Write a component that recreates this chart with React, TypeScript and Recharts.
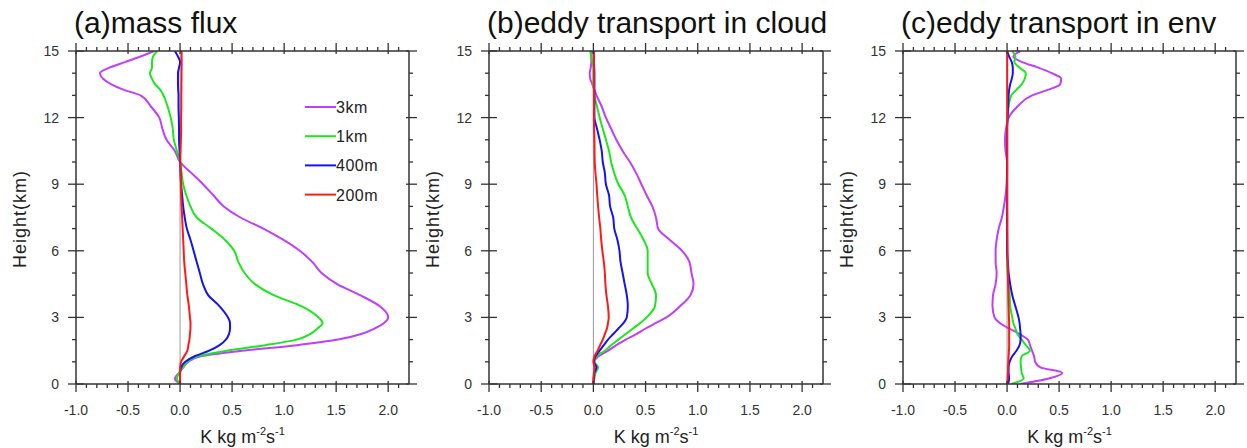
import { LineChart, Line, XAxis, YAxis, ReferenceLine } from "recharts";

// heights (km) shared by every profile
const heights = [
  0, 0.25, 0.5, 0.75, 1, 1.25, 1.5, 1.75, 2, 2.25, 2.5, 2.75, 3, 3.5, 4, 4.5, 5, 5.5, 6, 6.5, 7, 7.5, 8,
  8.5, 9, 9.5, 10, 10.5, 11, 11.5, 12, 12.5, 13, 13.25, 13.5, 13.75, 14, 14.25, 14.5, 14.75, 15,
];

// (a) mass flux
const a3km = [
  0, -0.05, -0.01, 0.03, 0.08, 0.2, 0.6, 1.12, 1.52, 1.74, 1.87, 1.96, 2.0, 1.92, 1.73, 1.51, 1.36, 1.27,
  1.15, 0.99, 0.8, 0.58, 0.42, 0.32, 0.22, 0.11, 0.0, -0.05, -0.13, -0.17, -0.2, -0.28, -0.38, -0.54, -0.66,
  -0.74, -0.77, -0.68, -0.53, -0.38, -0.25,
];
const a1km = [
  0, -0.03, -0.01, 0.03, 0.07, 0.17, 0.45, 0.82, 1.12, 1.25, 1.32, 1.37, 1.33, 1.17, 0.9, 0.72, 0.62, 0.56,
  0.52, 0.43, 0.3, 0.16, 0.1, 0.06, 0.03, 0.015, 0.0, -0.03, -0.06, -0.07, -0.09, -0.12, -0.16, -0.19, -0.24,
  -0.27, -0.29, -0.27, -0.27, -0.26, -0.22,
];
const a400m = [
  0, 0, 0, 0.01, 0.05, 0.14, 0.28, 0.38, 0.44, 0.47, 0.48, 0.48, 0.46, 0.38, 0.27, 0.22, 0.19, 0.16, 0.13,
  0.1, 0.065, 0.045, 0.03, 0.02, 0.01, 0.005, 0, -0.005, -0.01, -0.01, -0.012, -0.015, -0.015, -0.018, -0.02,
  -0.02, -0.02, -0.01, 0, -0.02, -0.05,
];
const a200m = [
  0, 0, 0, 0, 0.01, 0.04, 0.07, 0.08, 0.09, 0.095, 0.1, 0.1, 0.095, 0.085, 0.07, 0.06, 0.05, 0.04, 0.035,
  0.03, 0.025, 0.02, 0.015, 0.01, 0.008, 0.005, 0.003, 0.005, 0.008, 0.01, 0.01, 0.012, 0.012, 0.013, 0.013,
  0.014, 0.014, 0.015, 0.015, 0.015, 0.015,
];

// (b) eddy transport in cloud
const b3km = [
  0, 0.005, 0.01, 0.03, 0.01, 0.05, 0.14, 0.22, 0.31, 0.41, 0.5, 0.6, 0.7, 0.83, 0.93, 0.96, 0.94, 0.92,
  0.85, 0.73, 0.62, 0.6, 0.565, 0.51, 0.46, 0.41, 0.35, 0.28, 0.22, 0.17, 0.12, 0.08, 0.03, 0.01, -0.01,
  -0.03, -0.035, -0.025, -0.02, -0.02, -0.01,
];
const b1km = [
  0, 0.01, 0.02, 0.045, 0.01, 0.03, 0.11, 0.17, 0.24, 0.31, 0.38, 0.45, 0.51, 0.59, 0.6, 0.56, 0.52, 0.52,
  0.52, 0.48, 0.42, 0.36, 0.33, 0.3, 0.24, 0.2, 0.17, 0.15, 0.12, 0.09, 0.06, 0.035, 0.01, 0.005, 0, 0, 0, 0,
  -0.01, -0.02, -0.03,
];
const b400m = [
  0, 0.005, 0.01, 0.03, 0.005, 0.02, 0.06, 0.1, 0.14, 0.19, 0.24, 0.29, 0.32, 0.33, 0.32, 0.3, 0.28, 0.26,
  0.25, 0.23, 0.2, 0.19, 0.16, 0.15, 0.12, 0.11, 0.09, 0.08, 0.06, 0.035, 0.01, 0.01, 0.01, 0.01, 0.01, 0.01,
  0.01, 0.008, 0.006, 0.005, 0.005,
];
const b200m = [
  0, 0, 0.005, 0.01, 0, 0.01, 0.04, 0.065, 0.09, 0.11, 0.13, 0.14, 0.147, 0.14, 0.125, 0.115, 0.11, 0.1,
  0.086, 0.075, 0.067, 0.055, 0.045, 0.037, 0.03, 0.02, 0.013, 0.011, 0.01, 0.007, 0.005, 0.005, 0.005,
  0.005, 0.005, 0.005, 0.005, 0.005, 0.005, 0.005, 0.005,
];

// (c) eddy transport in env
const c3km = [
  0.12, 0.4, 0.53, 0.32, 0.27, 0.26, 0.24, 0.22, 0.2, 0.12, 0.02, -0.07, -0.12, -0.14, -0.135, -0.11, -0.1,
  -0.11, -0.11, -0.1, -0.08, -0.05, -0.03, -0.015, -0.005, 0, 0, -0.015, -0.02, -0.01, 0.016, 0.1, 0.24,
  0.39, 0.51, 0.52, 0.43, 0.3, 0.145, 0.06, 0.13,
];
const c1km = [
  0.04, 0.16, 0.14, 0.135, 0.13, 0.14, 0.22, 0.18, 0.14, 0.1, 0.08, 0.06, 0.05, 0.03, 0.025, 0.015, 0.005,
  0, 0, 0, 0, 0, 0, 0, 0, 0, 0, 0, 0, 0, 0.005, 0.015, 0.04, 0.09, 0.14, 0.17, 0.18, 0.12, 0.07, 0.08, 0.05,
];
const c400m = [
  0.01, 0.02, 0.015, 0.015, 0.025, 0.05, 0.09, 0.12, 0.13, 0.13, 0.125, 0.12, 0.11, 0.08, 0.05, 0.03, 0.015,
  0.008, 0, 0, 0, 0, 0, 0, 0, 0, 0, 0, 0, 0, 0.005, 0.01, 0.015, 0.02, 0.03, 0.045, 0.055, 0.055, 0.045,
  0.02, 0,
];
const c200m = [
  0, 0.005, 0.008, 0.01, 0.012, 0.015, 0.018, 0.02, 0.02, 0.02, 0.02, 0.02, 0.018, 0.015, 0.012, 0.01,
  0.008, 0.006, 0.005, 0.004, 0.003, 0.003, 0.002, 0.002, 0.002, 0.002, 0.002, 0.002, 0.002, 0.002, 0.002,
  0.001, 0.001, 0.001, 0.001, 0.001, 0.001, 0.001, 0.001, 0.001, 0,
];

const seriesNames = ["3km", "1km", "400m", "200m"];
const seriesColors = ["#bf3eff", "#1ee61e", "#1414f0", "#ff1a1a"];

const panelTitles = ["(a)mass flux", "(b)eddy transport in cloud", "(c)eddy transport in env"];

const xTicks = [
  -1, -0.9, -0.8, -0.7, -0.6, -0.5, -0.4, -0.3, -0.2, -0.1, 0, 0.1, 0.2, 0.3, 0.4, 0.5, 0.6, 0.7, 0.8, 0.9,
  1, 1.1, 1.2, 1.3, 1.4, 1.5, 1.6, 1.7, 1.8, 1.9, 2, 2.1,
];
const xMajor = [-1, -0.5, 0, 0.5, 1, 1.5, 2];
const yTicks = [0, 1, 2, 3, 4, 5, 6, 7, 8, 9, 10, 11, 12, 13, 14, 15];
const yMajor = [0, 3, 6, 9, 12, 15];

const FONT = "'Liberation Sans', Arial, Helvetica, sans-serif";
const AXIS = "#333";

const isMajor = (v: number, majors: number[]) => majors.some((m) => Math.abs(m - v) < 1e-6);

function BottomTick(p: any) {
  const major = isMajor(p.payload.value, xMajor);
  return (
    <g>
      <line x1={p.x} x2={p.x} y1={major ? p.y - 3 : p.y} y2={p.y + (major ? 8 : 4)} stroke={AXIS} strokeWidth={1.3} />
      {major && (
        <text x={p.x} y={p.y + 31} textAnchor="middle" fontSize={14} fontFamily={FONT} fill="#333">
          {p.payload.value.toFixed(1)}
        </text>
      )}
    </g>
  );
}

function TopTick(p: any) {
  const major = isMajor(p.payload.value, xMajor);
  return <line x1={p.x} x2={p.x} y1={p.y - (major ? 8 : 4)} y2={major ? p.y + 3 : p.y} stroke={AXIS} strokeWidth={1.3} />;
}

function LeftTick(p: any) {
  const major = isMajor(p.payload.value, yMajor);
  return (
    <g>
      <line x1={p.x - (major ? 8 : 4)} x2={major ? p.x + 8 : p.x} y1={p.y} y2={p.y} stroke={AXIS} strokeWidth={1.3} />
      {major && (
        <text x={p.x - 17} y={p.y + 5} textAnchor="end" fontSize={14} fontFamily={FONT} fill="#333">
          {p.payload.value}
        </text>
      )}
    </g>
  );
}

function RightTick(p: any) {
  const major = isMajor(p.payload.value, yMajor);
  return <line x1={major ? p.x - 3 : p.x} x2={p.x + (major ? 8 : 4)} y1={p.y} y2={p.y} stroke={AXIS} strokeWidth={1.3} />;
}

type PanelProps = {
  left: number;
  width: number;
  plotLeft: number;
  plotRight: number;
  values: number[][];
};

const PLOT_TOP = 51;
const PLOT_BOTTOM = 384;

function Panel({ left, width, plotLeft, plotRight, values }: PanelProps) {
  const data = heights.map((h, i) => {
    const row: any = { h };
    seriesNames.forEach((name, k) => (row[name] = values[k][i]));
    return row;
  });
  const axisLine = { stroke: AXIS, strokeWidth: 1.5 };
  // each axis takes 1px, the rest of the frame comes from the margins
  const margin = {
    top: PLOT_TOP - 1,
    bottom: 448 - PLOT_BOTTOM - 1,
    left: plotLeft - left - 1,
    right: left + width - plotRight - 1,
  };
  return (
    <div style={{ position: "absolute", left, top: 0 }}>
      <LineChart width={width} height={448} layout="vertical" data={data} margin={margin}>
        <XAxis xAxisId="b" type="number" domain={[-1, 2.2]} allowDataOverflow ticks={xTicks} interval={0}
          height={1} tickSize={0} tickMargin={0} tickLine={false} axisLine={axisLine} tick={(p: any) => <BottomTick {...p} />} />
        <XAxis xAxisId="t" orientation="top" type="number" domain={[-1, 2.2]} allowDataOverflow ticks={xTicks} interval={0}
          height={1} tickSize={0} tickMargin={0} tickLine={false} axisLine={axisLine} tick={(p: any) => <TopTick {...p} />} />
        <YAxis yAxisId="l" dataKey="h" type="number" domain={[0, 15]} allowDataOverflow reversed ticks={yTicks} interval={0}
          width={1} tickSize={0} tickMargin={0} tickLine={false} axisLine={axisLine} tick={(p: any) => <LeftTick {...p} />} />
        <YAxis yAxisId="r" dataKey="h" orientation="right" type="number" domain={[0, 15]} allowDataOverflow reversed ticks={yTicks} interval={0}
          width={1} tickSize={0} tickMargin={0} tickLine={false} axisLine={axisLine} tick={(p: any) => <RightTick {...p} />} />
        <ReferenceLine xAxisId="b" yAxisId="l" x={0} stroke="#999" strokeWidth={1} />
        {/* invisible copy so the top/right frame axes have a series bound to them */}
        <Line xAxisId="t" yAxisId="r" dataKey={seriesNames[0]} stroke="none" dot={false} legendType="none" isAnimationActive={false} />
        {seriesNames.map((name, k) => (
          <Line
            key={name}
            xAxisId="b"
            yAxisId="l"
            dataKey={name}
            type="monotone"
            stroke={seriesColors[k]}
            strokeWidth={2}
            dot={false}
            isAnimationActive={false}
          />
        ))}
      </LineChart>
    </div>
  );
}

const panels = [
  { left: 0, width: 420, plotLeft: 76, plotRight: 409, values: [a3km, a1km, a400m, a200m] },
  { left: 420, width: 420, plotLeft: 489, plotRight: 823, values: [b3km, b1km, b400m, b200m] },
  { left: 840, width: 407, plotLeft: 903, plotRight: 1236, values: [c3km, c1km, c400m, c200m] },
];

function Overlay() {
  return (
    <svg width={1247} height={448} style={{ position: "absolute", left: 0, top: 0, pointerEvents: "none" }}>
      {panels.map((p, i) => {
        const cx = (p.plotLeft + p.plotRight) / 2;
        return (
          <g key={i} fontFamily={FONT}>
            <text x={p.plotLeft - 2} y={33} fontSize={30} fill="#111">{panelTitles[i]}</text>
            <text transform={`translate(${p.plotLeft - 50},219) rotate(-90)`} textAnchor="middle" fontSize={18}
              letterSpacing={1} fill="#222">Height(km)</text>
            <text x={cx} y={443} textAnchor="middle" fontSize={18} fill="#222">
              K kg m<tspan fontSize={11} dy={-8}>-2</tspan><tspan dy={8}>s</tspan>
              <tspan fontSize={11} dy={-8}>-1</tspan>
            </text>
          </g>
        );
      })}
      <g fontFamily={FONT}>
        {seriesNames.map((name, k) => (
          <g key={name}>
            <line x1={305} x2={336} y1={107 + k * 29.2} y2={107 + k * 29.2} stroke={seriesColors[k]} strokeWidth={2} />
            <text x={336} y={107 + k * 29.2 + 6} fontSize={16} letterSpacing={0.5} fill="#222">{name}</text>
          </g>
        ))}
      </g>
    </svg>
  );
}

export default function App() {
  return (
    <div style={{ position: "absolute", left: 0, top: 0, width: 1247, height: 448, background: "#fff" }}>
      {panels.map((p, i) => (
        <Panel key={i} {...p} />
      ))}
      <Overlay />
    </div>
  );
}
